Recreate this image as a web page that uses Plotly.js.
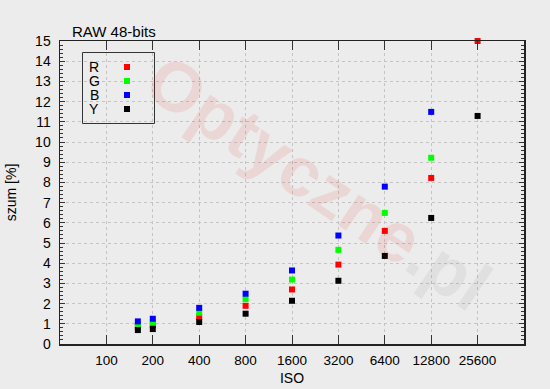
<!DOCTYPE html>
<html>
<head>
<meta charset="utf-8">
<script src="https://cdn.plot.ly/plotly-3.0.1.min.js"></script>
<style>html,body{margin:0;padding:0;background:#ececec;}#chart{width:550px;height:389px;}</style>
</head>
<body>
<div id="chart"></div>
<script>
// ---- data ----
const iso = [160, 200, 400, 800, 1600, 3200, 6400, 12800, 25600];
const noiseR = [0.84, 0.94, 1.33, 1.89, 2.70, 3.93, 5.60, 8.22, 15.0];
const noiseG = [0.94, 1.07, 1.55, 2.22, 3.19, 4.66, 6.49, 9.22, null];
const noiseB = [1.12, 1.25, 1.79, 2.49, 3.64, 5.37, 7.79, 11.49, null];
const noiseY = [0.69, 0.74, 1.09, 1.50, 2.14, 3.13, 4.36, 6.24, 11.29];
const seriesNames = ["R", "G", "B", "Y"];
const tickIso = [100, 200, 400, 800, 1600, 3200, 6400, 12800, 25600];
const tickIsoText = ["100", "200", "400", "800", "1600", "3200", "6400", "12800", "25600"];

// ---- styling ----
const colors = ["#ff0000", "#00ff00", "#0000ff", "#000000"];
const seriesValues = [noiseR, noiseG, noiseB, noiseY];
const W = 550, H = 389;
const M = {l: 60, r: 26, t: 41, b: 45};
const PW = W - M.l - M.r, PH = H - M.t - M.b;
const px2x = p => (p - M.l) / PW;
const py2y = p => (H - M.b - p) / PH;
const FONT = "Liberation Sans, Arial, sans-serif";

const traces = seriesValues.map((vals, i) => ({
  type: "scatter", mode: "markers", name: seriesNames[i],
  x: iso, y: vals,
  marker: {symbol: "square", size: 6, color: colors[i], line: {width: 0}},
  cliponaxis: false, showlegend: false
}));

// custom legend (text left of swatch, like the original)
const shapes = [{
  type: "rect", xref: "paper", yref: "paper",
  x0: px2x(82.5), x1: px2x(154.5), y0: py2y(123.5), y1: py2y(52.5),
  line: {color: "#333", width: 1}, fillcolor: "rgba(0,0,0,0)"
}];
const rowY = [67, 81, 95, 109];
const annotations = [];
seriesNames.forEach((n, i) => {
  annotations.push({
    xref: "paper", yref: "paper", x: px2x(94), y: py2y(rowY[i]),
    text: n, showarrow: false, xanchor: "center", yanchor: "middle",
    height: 12, valign: "middle", borderpad: 0,
    font: {family: FONT, size: 14, color: "#000"}
  });
  shapes.push({
    type: "rect", xref: "paper", yref: "paper",
    x0: px2x(124), x1: px2x(130), y0: py2y(rowY[i] + 3), y1: py2y(rowY[i] - 3),
    line: {width: 0}, fillcolor: colors[i]
  });
});
// watermark (translucent so the data stays visible through it)
annotations.push({
  xref: "paper", yref: "paper", x: px2x(284), y: py2y(160),
  text: "<b>Optyczne</b>",
  showarrow: false, textangle: 34, xanchor: "center", yanchor: "middle",
  font: {family: FONT, size: 70, color: "rgba(230,0,0,0.09)"}
});
annotations.push({
  xref: "paper", yref: "paper", x: px2x(449), y: py2y(271),
  text: "<b>.pl</b>",
  showarrow: false, textangle: 34, xanchor: "center", yanchor: "middle",
  font: {family: FONT, size: 70, color: "rgba(90,90,90,0.08)"}
});

const layout = {
  width: W, height: H,
  paper_bgcolor: "#ececec", plot_bgcolor: "#ececec",
  margin: M,
  font: {family: FONT, size: 14, color: "#000"},
  title: {text: "RAW 48-bits", x: 72 / W, xanchor: "left", xref: "container",
          y: 1 - 32 / H, yanchor: "middle", font: {family: FONT, size: 15, color: "#000"}},
  xaxis: {
    type: "log", range: [Math.log10(50), Math.log10(51200)],
    tickmode: "array", tickvals: tickIso, ticktext: tickIsoText,
    ticks: "inside", ticklen: 9, tickwidth: 1, tickcolor: "#333",
    showline: true, linecolor: "#222", linewidth: 1.5, mirror: "allticks",
    showgrid: true, gridcolor: "#c4c4c4", griddash: "dot", gridwidth: 1,
    zeroline: false, tickfont: {family: FONT, size: 13.5},
    ticklabelstandoff: 3,
    title: {text: "ISO", font: {family: FONT, size: 14}, standoff: 6}
  },
  yaxis: {
    range: [0, 15], dtick: 1, tick0: 0,
    ticks: "inside", ticklen: 5, tickwidth: 1, tickcolor: "#333",
    minor: {dtick: 0.2, ticks: "inside", ticklen: 3, tickcolor: "#333", showgrid: false},
    showline: true, linecolor: "#222", linewidth: 1.5, mirror: "allticks",
    showgrid: true, gridcolor: "#c4c4c4", griddash: "dot", gridwidth: 1,
    zeroline: false, tickfont: {family: FONT, size: 14},
    ticklabelstandoff: 5,
    title: {text: "szum [%]", font: {family: FONT, size: 14}, standoff: 15}
  },
  shapes: shapes, annotations: annotations,
  showlegend: false
};

Plotly.newPlot("chart", traces, layout, {staticPlot: true, displayModeBar: false});
</script>
</body>
</html>
